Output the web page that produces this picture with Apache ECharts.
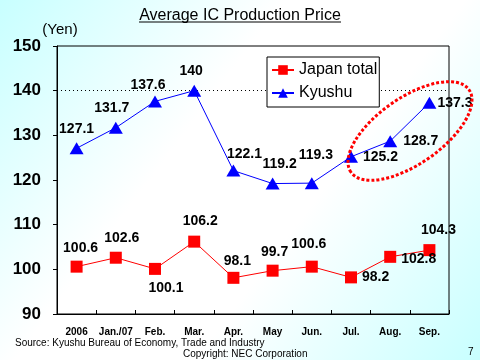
<!DOCTYPE html>
<html>
<head>
<meta charset="utf-8">
<script src="https://cdn.jsdelivr.net/npm/echarts@6/dist/echarts.min.js"></script>
<style>html,body{margin:0;padding:0;}#c{width:480px;height:360px;}</style>
</head>
<body>
<div id="c"></div>
<script>
const categories = ['2006', 'Jan./07', 'Feb.', 'Mar.', 'Apr.', 'May', 'Jun.', 'Jul.', 'Aug.', 'Sep.'];
const japanTotal = [100.6, 102.6, 100.1, 106.2, 98.1, 99.7, 100.6, 98.2, 102.8, 104.3];
const kyushu = [127.1, 131.7, 137.6, 140, 122.1, 119.2, 119.3, 125.2, 128.7, 137.3];
const yTicks = [90, 100, 110, 120, 130, 140, 150];
const seriesNames = ['Japan total', 'Kyushu'];

// label placement (style only)
const kyLabel = [
  {position:'top', offset:[0,-1]}, {position:'top', offset:[-4,-2]}, {position:'top', offset:[-7,2]}, {position:'top', offset:[-3,-2]},
  {position:'top', offset:[11,2]}, {position:'top', offset:[7,-1]}, {position:'top', offset:[4,-10]},
  {position:'right', distance:5}, {position:'right', distance:6}, {position:'right', distance:1}
];
const jpLabel = [
  {position:'top', offset:[4,-1]}, {position:'top', offset:[6,-2]}, {position:'bottom', offset:[11,1]}, {position:'top', offset:[6,-2]},
  {position:'top', offset:[4,1]}, {position:'top', offset:[2,-1]}, {position:'top', offset:[-3,-5]},
  {position:'right', distance:5}, {position:'right', distance:5, offset:[0,2]}, {position:'top', offset:[9,-2]}
];

const labelFont = {fontFamily:'"Liberation Sans",Arial', fontWeight:'bold', fontSize:14, color:'#000'};

const chart = echarts.init(document.getElementById('c'), null, {renderer:'canvas'});
chart.setOption({
  animation: false,
  backgroundColor: new echarts.graphic.LinearGradient(0, 0, 1, 1, [
    {offset:0, color:'#c8ffff'}, {offset:0.38, color:'#ffffff'}, {offset:0.62, color:'#ffffff'}, {offset:1, color:'#c8ffff'}
  ]),
  title: {
    text: 'Average IC Production Price', left: 'center', top: 3,
    textStyle: {fontFamily:'"Liberation Sans",Arial', fontWeight:'normal', fontSize:16, color:'#000'}
  },
  legend: {
    orient: 'vertical', left: 267, top: 57,
    backgroundColor: '#fff', borderColor: '#000', borderWidth: 1,
    padding: [5, 2, 6, 4], itemGap: 7, itemWidth: 22, itemHeight: 12,
    textStyle: {fontFamily:'"Liberation Sans",Arial', fontSize:16, color:'#000'},
    data: seriesNames
  },
  grid: {left:57, right:31, top:46, bottom:46, show:true, borderColor:'#000', borderWidth:1, backgroundColor:'transparent'},
  xAxis: {
    type: 'category', data: categories, boundaryGap: true,
    axisLine: {lineStyle:{color:'#000', width:1}},
    axisTick: {show:true, inside:true, length:4, interval:0, lineStyle:{color:'#000'}},
    axisLabel: {interval:0, margin:13, fontFamily:'"Liberation Sans",Arial', fontWeight:'bold', fontSize:10, color:'#000'},
    splitLine: {show:false}
  },
  yAxis: {
    type: 'value', min: yTicks[0], max: yTicks[yTicks.length-1], interval: 10,
    name: '(Yen)', nameLocation: 'end', nameGap: 8,
    nameTextStyle: {fontFamily:'"Liberation Sans",Arial', fontSize:15, color:'#000', align:'center', padding:[0,0,0,6]},
    axisLine: {show:true, lineStyle:{color:'#000', width:1}},
    axisTick: {show:true, inside:false, length:4, lineStyle:{color:'#000'}},
    axisLabel: {margin:16, fontFamily:'"Liberation Sans",Arial', fontWeight:'bold', fontSize:17, color:'#000'},
    splitLine: {show:false}
  },
  series: [
    {
      name: seriesNames[0], type: 'line',
      data: japanTotal.map((v,i) => ({value:v, label: Object.assign({show:true}, labelFont, jpLabel[i])})),
      symbol: 'rect', symbolSize: 12,
      lineStyle: {color:'#ff0000', width:1}, itemStyle: {color:'#ff0000'},
      label: {show:true}
    },
    {
      name: seriesNames[1], type: 'line',
      data: kyushu.map((v,i) => ({value:v, label: Object.assign({show:true}, labelFont, kyLabel[i])})),
      symbol: 'triangle', symbolSize: [14, 12],
      lineStyle: {color:'#0000ff', width:1}, itemStyle: {color:'#0000ff'},
      label: {show:true},
      markLine: {
        silent: true, symbol: 'none', animation:false,
        label: {show:false},
        lineStyle: {color:'#000', type:[1,3], width:1},
        data: [{yAxis: 140}],
        z: 1
      }
    }
  ],
  graphic: [
    {type:'line', shape:{x1:139, y1:22, x2:341, y2:22}, style:{stroke:'#000', lineWidth:1}},
    {type:'ellipse', x:410, y:131, rotation:0.61, shape:{cx:0, cy:0, rx:72, ry:33},
     style:{fill:'none', stroke:'#ff0000', lineWidth:3, lineDash:[3,2]}, z:100},
    {type:'text', left:15, top:338, style:{text:'Source: Kyushu Bureau of Economy, Trade and Industry', font:'10px "Liberation Sans", Arial', fill:'#000'}},
    {type:'text', left:183, top:349, style:{text:'Copyright: NEC Corporation', font:'10px "Liberation Sans", Arial', fill:'#000'}},
    {type:'text', left:468, top:347, style:{text:'7', font:'10px "Liberation Sans", Arial', fill:'#000'}}
  ]
});
</script>
</body>
</html>
